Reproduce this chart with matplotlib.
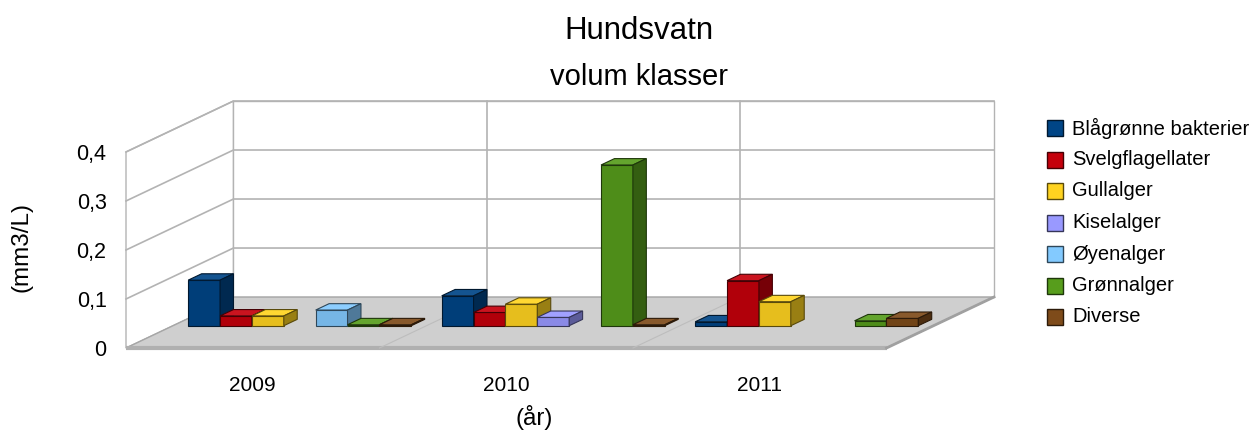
import numpy as np
import matplotlib
matplotlib.use("Agg")
import matplotlib.pyplot as plt
from matplotlib.patches import Polygon, Rectangle
from matplotlib.colors import to_rgb

plt.rcParams['font.family'] = ['Liberation Sans', 'DejaVu Sans']

# ---------------- data ----------------
years = ["2009", "2010", "2011"]
series_names = ["Blågrønne bakterier", "Svelgflagellater", "Gullalger",
                "Kiselalger", "Øyenalger", "Grønnalger", "Diverse"]
blagronne = [0.093, 0.061, 0.008]
svelgflagellater = [0.020, 0.027, 0.092]
gullalger = [0.020, 0.044, 0.049]
kiselalger = [np.nan, 0.017, np.nan]
oyenalger = [0.032, np.nan, np.nan]
gronnalger = [0.002, 0.328, 0.010]
diverse = [0.002, 0.002, 0.015]
series_values = [blagronne, svelgflagellater, gullalger, kiselalger,
                 oyenalger, gronnalger, diverse]
colors = ["#004586", "#c5000b", "#ffd320", "#9999ff", "#83caff",
          "#579d1c", "#7e4b1a"]
y_ticks = [0, 0.1, 0.2, 0.3, 0.4]
y_ticklabels = ["0", "0,1", "0,2", "0,3", "0,4"]

# ---------------- geometry ----------------
W, H = 1260, 434
fig = plt.figure(figsize=(W / 100, H / 100), dpi=100)

DX = 0.424   # depth offset in category units
DY = 0.104   # depth offset in value units
VMAX = 0.4
ncat = len(years)
px_left, px_right = 126, 994
px_bottom, px_top = 348, 101
ax = fig.add_axes([px_left / W, (H - px_bottom) / H,
                   (px_right - px_left) / W, (px_bottom - px_top) / H])
ax.set_xlim(0, ncat + DX)
ax.set_ylim(0, VMAX + DY)
for s in ax.spines.values():
    s.set_visible(False)


def proj(u, v, d):
    return (u + d * DX, v + d * DY)


def poly(pts, fc, ec, lw=1.0, z=1):
    p = Polygon(pts, closed=True, facecolor=fc, edgecolor=ec, linewidth=lw,
                zorder=z, clip_on=False, joinstyle='miter')
    ax.add_patch(p)


grid_c = "#b3b3b3"
# left wall
poly([proj(0, 0, 0), proj(0, VMAX, 0), proj(0, VMAX, 1), proj(0, 0, 1)],
     "white", grid_c, 1.0, 1)
# back wall
poly([proj(0, 0, 1), proj(ncat, 0, 1), proj(ncat, VMAX, 1), proj(0, VMAX, 1)],
     "white", grid_c, 1.0, 1)
for v in y_ticks[1:]:
    a, b, c = proj(0, v, 0), proj(0, v, 1), proj(ncat, v, 1)
    ax.plot([a[0], b[0], c[0]], [a[1], b[1], c[1]], color=grid_c, lw=1.2,
            zorder=2, clip_on=False)
for u in range(1, ncat):
    a, b = proj(u, 0, 1), proj(u, VMAX, 1)
    ax.plot([a[0], b[0]], [a[1], b[1]], color=grid_c, lw=1.2, zorder=2,
            clip_on=False)

# floor
poly([proj(0, 0, 0), proj(ncat, 0, 0), proj(ncat, 0, 1), proj(0, 0, 1)],
     "#cfcfcf", "#a6a6a6", 1.0, 3)
fa, fb = proj(0, 0, 0), proj(ncat, 0, 0)
ax.plot([fa[0], fb[0]], [fa[1], fb[1]], color="#b0b0b0", lw=3, zorder=3,
        clip_on=False, solid_capstyle='butt')
ra, rb = proj(ncat, 0, 0), proj(ncat, 0, 1)
ax.plot([ra[0], rb[0]], [ra[1], rb[1]], color="#a0a0a0", lw=2, zorder=3,
        clip_on=False)
for u in range(1, ncat):
    a, b = proj(u, 0, 0), proj(u, 0, 1)
    ax.plot([a[0], b[0]], [a[1], b[1]], color="#bdbdbd", lw=0.8, zorder=3.5,
            clip_on=False)

# bars
nser = len(series_values)
margin = 0.06
bw = (1 - 2 * margin) / nser
d0, d1 = 0.437, 0.562


def shade(c, f):
    r = np.array(to_rgb(c))
    return tuple(np.clip(r * f, 0, 1))


def lighten(c, f):
    r = np.array(to_rgb(c))
    return tuple(r + (1 - r) * f)


z = 10
for i in range(ncat):
    for j, vals in enumerate(series_values):
        h = vals[i]
        if np.isnan(h):
            continue
        u0 = i + margin + j * bw
        u1 = u0 + bw
        c = colors[j]
        ec = shade(c, 0.35)
        # front face
        poly([proj(u0, 0, d0), proj(u1, 0, d0), proj(u1, h, d0), proj(u0, h, d0)],
             shade(c, 0.9), ec, 0.8, z)
        # top face
        poly([proj(u0, h, d0), proj(u1, h, d0), proj(u1, h, d1), proj(u0, h, d1)],
             lighten(c, 0.08), ec, 0.8, z)
        # side face
        poly([proj(u1, 0, d0), proj(u1, 0, d1), proj(u1, h, d1), proj(u1, h, d0)],
             shade(c, 0.6), ec, 0.8, z)
        z += 1

# ticks
ax.set_yticks(y_ticks)
ax.set_yticklabels(y_ticklabels, fontsize=15.5)
ax.tick_params(axis='y', length=0, pad=14)
for t in ax.get_yticklabels():
    t.set_verticalalignment('center_baseline')
ax.set_xticks([i + 0.5 for i in range(ncat)])
ax.set_xticklabels(years, fontsize=15)
ax.tick_params(axis='x', length=0, pad=20)

# titles
fig.text(639 / W, 1 - 39 / H, "Hundsvatn", fontsize=22.5, ha='center',
         va='baseline')
fig.text(639 / W, 1 - 85 / H, "volum klasser", fontsize=21, ha='center',
         va='baseline')
fig.text(21 / W, 1 - 247 / H, "(mm3/L)", fontsize=17.5, rotation=90,
         ha='center', va='center')
fig.text(534 / W, 1 - 418 / H, "(år)", fontsize=17.5, ha='center', va='center')

# legend
for k, (name, c) in enumerate(zip(series_names, colors)):
    cy = 128 + 31.5 * k
    fig.patches.append(Rectangle((1047 / W, 1 - (cy + 8) / H), 16 / W, 16 / H,
                                 transform=fig.transFigure, facecolor=c,
                                 edgecolor=shade(c, 0.35), linewidth=1.0))
    fig.text(1072 / W, 1 - cy / H, name, fontsize=14.5, ha='left',
             va='center')

fig.savefig("out.png", dpi=100, facecolor="white")
